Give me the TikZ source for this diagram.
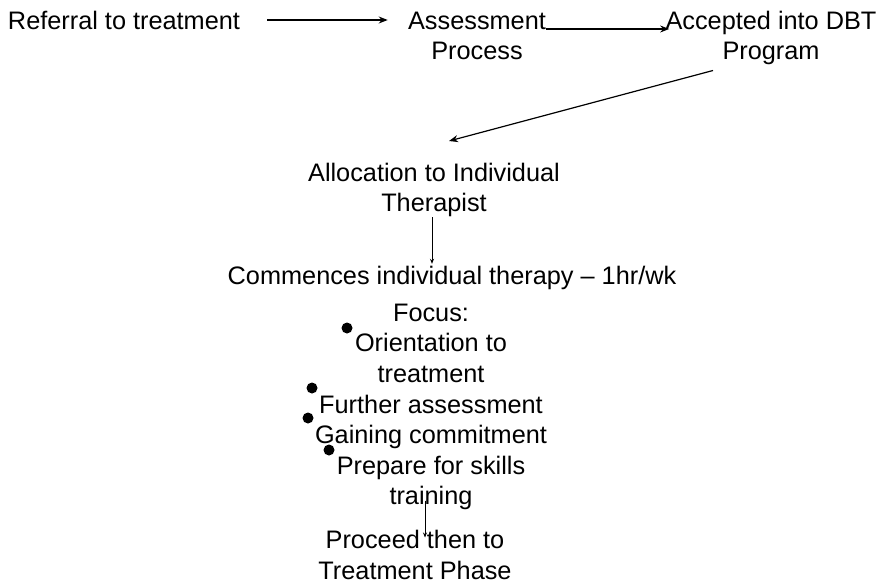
\documentclass[tikz,border=0pt]{standalone}
\usepackage{fontspec}
\setmainfont{Liberation Sans}
\usepackage{tikz}
\usetikzlibrary{arrows.meta}

\begin{document}
\begin{tikzpicture}[x=0.5pt,y=-0.5pt,
  font=\fontsize{12.65}{15.3}\selectfont,
  box/.style={align=center,inner sep=0pt},
  arr/.style={-{Stealth[length=4.5pt,width=3.5pt]},line width=0.6pt},
  smallarr/.style={-{Stealth[length=2.5pt,width=2pt]},line width=0.5pt},
  dot/.style={circle,fill,inner sep=0pt,minimum size=5.5pt}]
  \useasboundingbox (0,0) rectangle (882,584);
  \node[box] (referral) at (124,20) {Referral to treatment};
  \node[box] (assess) at (477,36) {Assessment\\Process};
  \node[box] (accept) at (771,38) {Accepted into DBT\\Program};
  \node[box] (alloc) at (434,190) {Allocation to Individual\\Therapist};
  \node[box] (commence) at (452,278) {Commences individual therapy -- 1hr/wk};
  \node[box] (focus) at (431,407) {Focus:\\Orientation to\\treatment\\Further assessment\\Gaining commitment\\Prepare for skills\\training};
  \node[box] (proceed) at (415,555) {Proceed then to\\Treatment Phase};
  % bullets
  \node[dot] (bul1) at (347,328) {};
  \node[dot] (bul2) at (312,388) {};
  \node[dot] (bul3) at (308,418) {};
  \node[dot] (bul4) at (329,450) {};
  % arrows
  \draw[arr] ([xshift=13.5pt]referral.east) -- ([xshift=-10pt]assess.west |- referral.east);
  \draw[arr] ([yshift=3.5pt]assess.east) -- ([xshift=2pt,yshift=4.5pt]accept.west);
  \draw[arr] ([xshift=-29pt,yshift=-2.5pt]accept.south) -- ([xshift=7.5pt,yshift=10.75pt]alloc.north);
  \draw[smallarr] ([xshift=-1pt]alloc.south) -- ([xshift=-1pt,yshift=1pt]alloc.south |- commence.north);
  \draw[smallarr] ([xshift=-3pt,yshift=5pt]focus.south) -- ([xshift=-3pt,yshift=-3.75pt]focus.south |- proceed.north);

\end{tikzpicture}
\end{document}
